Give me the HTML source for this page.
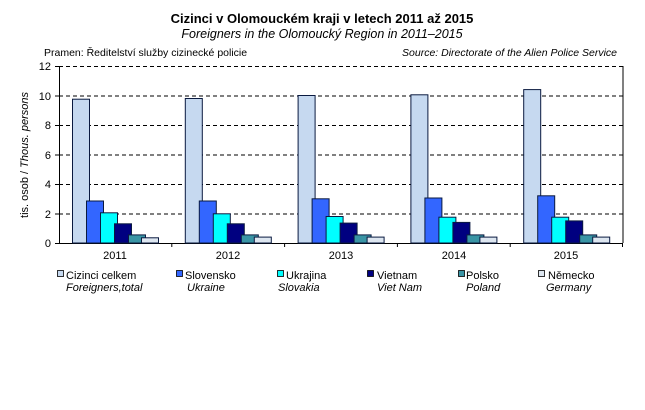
<!DOCTYPE html>
<html><head><meta charset="utf-8"><style>
body{margin:0;background:#fff;}
svg text{font-family:"Liberation Sans",sans-serif;fill:#000;}
</style></head><body>
<svg width="645" height="405" xmlns="http://www.w3.org/2000/svg">
<text x="322" y="23" font-size="13" font-weight="bold" text-anchor="middle">Cizinci v Olomouckém kraji v letech 2011 až 2015</text>
<text x="322" y="38" font-size="12.5" font-style="italic" text-anchor="middle">Foreigners in the Olomoucký Region in 2011–2015</text>
<text x="44" y="56" font-size="10.5">Pramen: Ředitelství služby cizinecké policie</text>
<text x="617" y="56" font-size="10.5" font-style="italic" text-anchor="end">Source: Directorate of the Alien Police Service</text>
<g stroke="#000" stroke-width="1" stroke-dasharray="4,3">
<line x1="59" y1="66.5" x2="623" y2="66.5"/>
<line x1="59" y1="96" x2="623" y2="96"/>
<line x1="59" y1="125.5" x2="623" y2="125.5"/>
<line x1="59" y1="155" x2="623" y2="155"/>
<line x1="59" y1="184.5" x2="623" y2="184.5"/>
<line x1="59" y1="214" x2="623" y2="214"/>
</g>
<line x1="623" y1="66" x2="623" y2="243" stroke="#000"/>
<line x1="59.5" y1="66" x2="59.5" y2="243" stroke="#000"/>
<line x1="55" y1="243.5" x2="623" y2="243.5" stroke="#000"/>
<g stroke="#000">
<line x1="55" y1="66.5" x2="59" y2="66.5"/><line x1="55" y1="96" x2="59" y2="96"/><line x1="55" y1="125.5" x2="59" y2="125.5"/><line x1="55" y1="155" x2="59" y2="155"/><line x1="55" y1="184.5" x2="59" y2="184.5"/><line x1="55" y1="214" x2="59" y2="214"/>
<line x1="171.8" y1="243" x2="171.8" y2="247"/><line x1="284.6" y1="243" x2="284.6" y2="247"/><line x1="397.4" y1="243" x2="397.4" y2="247"/><line x1="510.2" y1="243" x2="510.2" y2="247"/><line x1="622.5" y1="243" x2="622.5" y2="247"/>
</g>
<g font-size="11" text-anchor="end">
<text x="51" y="70">12</text><text x="51" y="100">10</text><text x="51" y="129">8</text><text x="51" y="159">6</text><text x="51" y="188">4</text><text x="51" y="218">2</text><text x="51" y="247">0</text>
</g>
<text transform="translate(28,155) rotate(-90)" font-size="11" text-anchor="middle">tis. osob / <tspan font-style="italic">Thous. persons</tspan></text>
<g id="bars" stroke="#0a1a40" stroke-width="1"></g>
<g font-size="11" text-anchor="middle">
<text x="115" y="259">2011</text><text x="228" y="259">2012</text><text x="341" y="259">2013</text><text x="454" y="259">2014</text><text x="566" y="259">2015</text>
</g>
<g font-size="11" stroke="#000" stroke-width="0.8">
<rect x="57.5" y="270.5" width="6" height="6" fill="#c6d9f0"/>
<rect x="176.5" y="270.5" width="6" height="6" fill="#3366ff"/>
<rect x="277.5" y="270.5" width="6" height="6" fill="#00ffff"/>
<rect x="367.5" y="270.5" width="6" height="6" fill="#000080"/>
<rect x="458.5" y="270.5" width="6" height="6" fill="#3a95a5"/>
<rect x="538.5" y="270.5" width="6" height="6" fill="#dde6f0"/>
</g>
<g font-size="11">
<text x="66" y="279">Cizinci celkem</text><text x="185" y="279">Slovensko</text><text x="286" y="279">Ukrajina</text><text x="377" y="279">Vietnam</text><text x="466" y="279">Polsko</text><text x="548" y="279">Německo</text>
</g>
<g font-size="11" font-style="italic">
<text x="66" y="291">Foreigners,total</text><text x="187" y="291">Ukraine</text><text x="278" y="291">Slovakia</text><text x="377" y="291">Viet Nam</text><text x="466" y="291">Poland</text><text x="546" y="291">Germany</text>
</g>
<g stroke="#0a1a40" stroke-width="1">
<!-- generated bars -->
<rect x="72.5" y="99.2" width="17" height="143.8" fill="#c6d9f0"/><rect x="86.5" y="201" width="17" height="42" fill="#3366ff"/><rect x="100.5" y="212.8" width="17" height="30.2" fill="#00ffff"/><rect x="114.5" y="223.8" width="17" height="19.2" fill="#000080"/><rect x="128.5" y="234.9" width="17" height="8.1" fill="#3a95a5"/><rect x="141.5" y="237.8" width="17" height="5.2" fill="#dde6f0"/>
<rect x="185.3" y="98.5" width="17" height="144.5" fill="#c6d9f0"/><rect x="199.3" y="201" width="17" height="42" fill="#3366ff"/><rect x="213.3" y="213.8" width="17" height="29.2" fill="#00ffff"/><rect x="227.3" y="223.8" width="17" height="19.2" fill="#000080"/><rect x="241.3" y="234.9" width="17" height="8.1" fill="#3a95a5"/><rect x="254.3" y="237.1" width="17" height="5.9" fill="#dde6f0"/>
<rect x="298.1" y="95.5" width="17" height="147.5" fill="#c6d9f0"/><rect x="312.1" y="198.8" width="17" height="44.2" fill="#3366ff"/><rect x="326.1" y="216.5" width="17" height="26.5" fill="#00ffff"/><rect x="340.1" y="223.1" width="17" height="19.9" fill="#000080"/><rect x="354.1" y="234.9" width="17" height="8.1" fill="#3a95a5"/><rect x="367.1" y="237.1" width="17" height="5.9" fill="#dde6f0"/>
<rect x="410.9" y="94.8" width="17" height="148.2" fill="#c6d9f0"/><rect x="424.9" y="198" width="17" height="45" fill="#3366ff"/><rect x="438.9" y="217.2" width="17" height="25.8" fill="#00ffff"/><rect x="452.9" y="222.4" width="17" height="20.6" fill="#000080"/><rect x="466.9" y="234.9" width="17" height="8.1" fill="#3a95a5"/><rect x="479.9" y="237.1" width="17" height="5.9" fill="#dde6f0"/>
<rect x="523.7" y="89.6" width="17" height="153.4" fill="#c6d9f0"/><rect x="537.7" y="195.8" width="17" height="47.2" fill="#3366ff"/><rect x="551.7" y="217.2" width="17" height="25.8" fill="#00ffff"/><rect x="565.7" y="220.9" width="17" height="22.1" fill="#000080"/><rect x="579.7" y="234.9" width="17" height="8.1" fill="#3a95a5"/><rect x="592.7" y="237.1" width="17" height="5.9" fill="#dde6f0"/>
</g>
</svg>
</body></html>
